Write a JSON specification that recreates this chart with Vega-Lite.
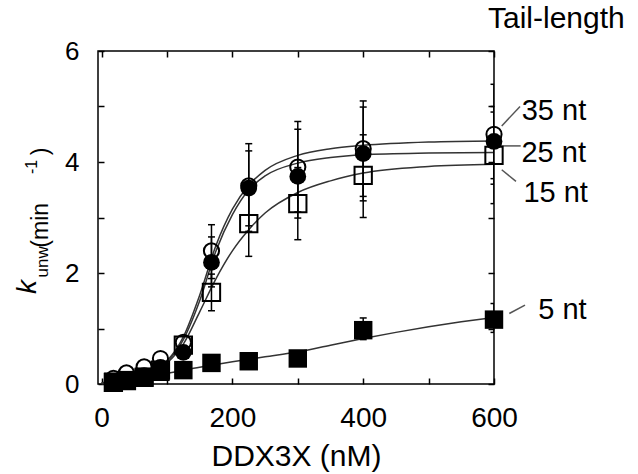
{
  "$schema": "https://vega.github.io/schema/vega-lite/v6.json",
  "width": 396,
  "height": 333,
  "autosize": {"type": "none"},
  "padding": {"left": 98, "top": 51, "right": 144, "bottom": 90},
  "background": "white",
  "config": {
    "view": {"stroke": "black", "strokeWidth": 1.5},
    "font": "Liberation Sans",
    "axis": {"grid": false, "domain": false, "tickColor": "black", "tickWidth": 1.5, "tickSize": -6, "labelColor": "black", "labelFont": "Liberation Sans", "titleFont": "Liberation Sans", "titleColor": "black", "titleFontWeight": "normal", "labelFlush": false}
  },
  "datasets": {
    "curves": [
      {"s": "35 nt", "x": 0, "y": 0.02}, {"s": "35 nt", "x": 25, "y": 0.08}, {"s": "35 nt", "x": 50, "y": 0.15}, {"s": "35 nt", "x": 75, "y": 0.25}, {"s": "35 nt", "x": 100, "y": 0.42}, {"s": "35 nt", "x": 125, "y": 0.85}, {"s": "35 nt", "x": 150, "y": 1.6}, {"s": "35 nt", "x": 175, "y": 2.5}, {"s": "35 nt", "x": 200, "y": 3.15}, {"s": "35 nt", "x": 225, "y": 3.58}, {"s": "35 nt", "x": 250, "y": 3.85}, {"s": "35 nt", "x": 300, "y": 4.12}, {"s": "35 nt", "x": 350, "y": 4.24}, {"s": "35 nt", "x": 400, "y": 4.3}, {"s": "35 nt", "x": 500, "y": 4.36}, {"s": "35 nt", "x": 600, "y": 4.38},
      {"s": "25 nt", "x": 0, "y": 0.02}, {"s": "25 nt", "x": 25, "y": 0.06}, {"s": "25 nt", "x": 50, "y": 0.12}, {"s": "25 nt", "x": 75, "y": 0.22}, {"s": "25 nt", "x": 100, "y": 0.4}, {"s": "25 nt", "x": 125, "y": 0.8}, {"s": "25 nt", "x": 150, "y": 1.5}, {"s": "25 nt", "x": 175, "y": 2.4}, {"s": "25 nt", "x": 200, "y": 3.05}, {"s": "25 nt", "x": 225, "y": 3.5}, {"s": "25 nt", "x": 250, "y": 3.75}, {"s": "25 nt", "x": 300, "y": 3.98}, {"s": "25 nt", "x": 350, "y": 4.08}, {"s": "25 nt", "x": 400, "y": 4.13}, {"s": "25 nt", "x": 500, "y": 4.16}, {"s": "25 nt", "x": 600, "y": 4.17},
      {"s": "15 nt", "x": 0, "y": 0.02}, {"s": "15 nt", "x": 25, "y": 0.05}, {"s": "15 nt", "x": 50, "y": 0.1}, {"s": "15 nt", "x": 75, "y": 0.2}, {"s": "15 nt", "x": 100, "y": 0.38}, {"s": "15 nt", "x": 125, "y": 0.72}, {"s": "15 nt", "x": 150, "y": 1.3}, {"s": "15 nt", "x": 175, "y": 1.9}, {"s": "15 nt", "x": 200, "y": 2.4}, {"s": "15 nt", "x": 225, "y": 2.78}, {"s": "15 nt", "x": 250, "y": 3.08}, {"s": "15 nt", "x": 300, "y": 3.45}, {"s": "15 nt", "x": 350, "y": 3.66}, {"s": "15 nt", "x": 400, "y": 3.8}, {"s": "15 nt", "x": 500, "y": 3.92}, {"s": "15 nt", "x": 600, "y": 3.96},
      {"s": "5 nt", "x": 0, "y": 0.0}, {"s": "5 nt", "x": 50, "y": 0.1}, {"s": "5 nt", "x": 100, "y": 0.19}, {"s": "5 nt", "x": 150, "y": 0.3}, {"s": "5 nt", "x": 200, "y": 0.4}, {"s": "5 nt", "x": 250, "y": 0.49}, {"s": "5 nt", "x": 300, "y": 0.58}, {"s": "5 nt", "x": 350, "y": 0.7}, {"s": "5 nt", "x": 400, "y": 0.82}, {"s": "5 nt", "x": 450, "y": 0.93}, {"s": "5 nt", "x": 500, "y": 1.03}, {"s": "5 nt", "x": 550, "y": 1.12}, {"s": "5 nt", "x": 600, "y": 1.2}
    ],
    "pts": [
      {"s": "35 nt", "x": 18, "y": 0.1}, {"s": "35 nt", "x": 38, "y": 0.2}, {"s": "35 nt", "x": 65, "y": 0.31}, {"s": "35 nt", "x": 90, "y": 0.46}, {"s": "35 nt", "x": 125, "y": 0.75}, {"s": "35 nt", "x": 168, "y": 2.4}, {"s": "35 nt", "x": 225, "y": 3.57}, {"s": "35 nt", "x": 300, "y": 3.91}, {"s": "35 nt", "x": 400, "y": 4.24}, {"s": "35 nt", "x": 600, "y": 4.5},
      {"s": "25 nt", "x": 18, "y": 0.04}, {"s": "25 nt", "x": 38, "y": 0.08}, {"s": "25 nt", "x": 65, "y": 0.15}, {"s": "25 nt", "x": 90, "y": 0.3}, {"s": "25 nt", "x": 125, "y": 0.57}, {"s": "25 nt", "x": 168, "y": 2.19}, {"s": "25 nt", "x": 225, "y": 3.53}, {"s": "25 nt", "x": 300, "y": 3.74}, {"s": "25 nt", "x": 400, "y": 4.15}, {"s": "25 nt", "x": 600, "y": 4.37},
      {"s": "15 nt", "x": 18, "y": 0.03}, {"s": "15 nt", "x": 38, "y": 0.06}, {"s": "15 nt", "x": 65, "y": 0.12}, {"s": "15 nt", "x": 90, "y": 0.25}, {"s": "15 nt", "x": 125, "y": 0.7}, {"s": "15 nt", "x": 168, "y": 1.65}, {"s": "15 nt", "x": 225, "y": 2.89}, {"s": "15 nt", "x": 300, "y": 3.25}, {"s": "15 nt", "x": 400, "y": 3.76}, {"s": "15 nt", "x": 600, "y": 4.12},
      {"s": "5 nt", "x": 18, "y": 0.04}, {"s": "5 nt", "x": 38, "y": 0.07}, {"s": "5 nt", "x": 65, "y": 0.13}, {"s": "5 nt", "x": 90, "y": 0.22}, {"s": "5 nt", "x": 125, "y": 0.25}, {"s": "5 nt", "x": 168, "y": 0.38}, {"s": "5 nt", "x": 225, "y": 0.41}, {"s": "5 nt", "x": 300, "y": 0.46}, {"s": "5 nt", "x": 400, "y": 0.97}, {"s": "5 nt", "x": 600, "y": 1.16}
    ],
    "err": [
      {"s": "35 nt", "x": 168, "lo": 1.9, "hi": 2.87}, {"s": "35 nt", "x": 225, "lo": 2.85, "hi": 4.33}, {"s": "35 nt", "x": 300, "lo": 3.1, "hi": 4.73}, {"s": "35 nt", "x": 400, "lo": 3.38, "hi": 5.1}, {"s": "35 nt", "x": 600, "lo": 3.6, "hi": 5.4},
      {"s": "25 nt", "x": 168, "lo": 1.75, "hi": 2.65}, {"s": "25 nt", "x": 225, "lo": 2.75, "hi": 4.2}, {"s": "25 nt", "x": 300, "lo": 2.99, "hi": 4.59}, {"s": "25 nt", "x": 400, "lo": 3.3, "hi": 4.99}, {"s": "25 nt", "x": 600, "lo": 3.7, "hi": 5.0},
      {"s": "15 nt", "x": 168, "lo": 1.32, "hi": 1.98}, {"s": "15 nt", "x": 225, "lo": 2.3, "hi": 3.5}, {"s": "15 nt", "x": 300, "lo": 2.6, "hi": 3.9}, {"s": "15 nt", "x": 400, "lo": 3.0, "hi": 4.49}, {"s": "15 nt", "x": 600, "lo": 3.25, "hi": 4.9},
      {"s": "5 nt", "x": 400, "lo": 0.8, "hi": 1.19}, {"s": "5 nt", "x": 600, "lo": 0.93, "hi": 1.45}
    ],
    "leaders": [
      {"s": "35 nt", "x": 611.8, "y": 4.65, "x2": 639.8, "y2": 5.0},
      {"s": "25 nt", "x": 609.2, "y": 4.29, "x2": 640.8, "y2": 4.29},
      {"s": "15 nt", "x": 611.8, "y": 3.86, "x2": 633.6, "y2": 3.65},
      {"s": "5 nt", "x": 623.4, "y": 1.27, "x2": 647.4, "y2": 1.42}
    ],
    "serieslabels": [
      {"t": "35 nt", "x": 642.4, "y": 4.76},
      {"t": "25 nt", "x": 642.0, "y": 4.0},
      {"t": "15 nt", "x": 645.0, "y": 3.28},
      {"t": "5 nt", "x": 667.7, "y": 1.18}
    ],
    "legendtitle": [{"t": "Tail-length", "x": 590.8, "y": 6.41}],
    "ytitle_k": [{"t": "k", "x": -112, "y": 1.75}],
    "ytitle_sub": [{"t": "unw", "x": -89.3, "y": 2.2}],
    "ytitle_main": [{"t": "(min", "x": -93.0, "y": 2.86}, {"t": ")", "x": -93.0, "y": 4.19}],
    "ytitle_sup": [{"t": "-1", "x": -106.4, "y": 3.91}]
  },
  "resolve": {"axis": {"x": "independent", "y": "independent"}},
  "layer": [
    {
      "data": {"name": "curves"},
      "mark": {"type": "line", "interpolate": "monotone", "color": "#333333", "strokeWidth": 1.5},
      "encoding": {
        "x": {"field": "x", "type": "quantitative", "scale": {"domain": [-5.5, 600], "nice": false, "zero": false},
              "axis": {"orient": "bottom", "values": [0, 100, 200, 300, 400, 500, 600], "labelExpr": "datum.value % 200 === 0 ? datum.label : ''", "labelFontSize": 28, "labelPadding": 26, "title": "DDX3X (nM)", "titleFontSize": 30, "titlePadding": 9}},
        "y": {"field": "y", "type": "quantitative", "scale": {"domain": [0, 6], "nice": false, "zero": false},
              "axis": {"orient": "left", "values": [0, 1, 2, 3, 4, 5, 6], "labelExpr": "datum.value % 2 === 0 ? datum.label : ''", "labelFontSize": 26, "labelPadding": 25, "title": null}},
        "detail": {"field": "s"}
      }
    },
    {
      "data": {"name": "leaders"},
      "mark": {"type": "rule", "color": "#555555", "strokeWidth": 1.5},
      "encoding": {
        "x": {"field": "x", "type": "quantitative", "scale": {"domain": [-5.5, 600], "nice": false, "zero": false},
              "axis": {"orient": "top", "values": [0, 100, 200, 300, 400, 500, 600], "labels": false, "title": null}},
        "x2": {"field": "x2"},
        "y": {"field": "y", "type": "quantitative", "scale": {"domain": [0, 6], "nice": false, "zero": false},
              "axis": {"orient": "right", "values": [0, 1, 2, 3, 4, 5, 6], "labels": false, "title": null}},
        "y2": {"field": "y2"}
      }
    },
    {
      "data": {"name": "err"},
      "mark": {"type": "rule", "color": "black", "strokeWidth": 1.5, "clip": true},
      "encoding": {
        "x": {"field": "x", "type": "quantitative", "scale": {"domain": [-5.5, 600], "nice": false, "zero": false}, "axis": null},
        "y": {"field": "lo", "type": "quantitative", "scale": {"domain": [0, 6], "nice": false, "zero": false}, "axis": null},
        "y2": {"field": "hi"}
      }
    },
    {
      "data": {"name": "err"},
      "mark": {"type": "tick", "orient": "horizontal", "color": "black", "size": 7, "thickness": 1.5, "clip": true, "opacity": 1},
      "encoding": {
        "x": {"field": "x", "type": "quantitative", "scale": {"domain": [-5.5, 600], "nice": false, "zero": false}, "axis": null},
        "y": {"field": "lo", "type": "quantitative", "scale": {"domain": [0, 6], "nice": false, "zero": false}, "axis": null}
      }
    },
    {
      "data": {"name": "err"},
      "mark": {"type": "tick", "orient": "horizontal", "color": "black", "size": 7, "thickness": 1.5, "clip": true, "opacity": 1},
      "encoding": {
        "x": {"field": "x", "type": "quantitative", "scale": {"domain": [-5.5, 600], "nice": false, "zero": false}, "axis": null},
        "y": {"field": "hi", "type": "quantitative", "scale": {"domain": [0, 6], "nice": false, "zero": false}, "axis": null}
      }
    },
    {
      "data": {"name": "pts"},
      "transform": [{"filter": "datum.s === '35 nt'"}],
      "mark": {"type": "point", "shape": "circle", "filled": false, "stroke": "black", "strokeWidth": 2, "size": 230, "opacity": 1},
      "encoding": {
        "x": {"field": "x", "type": "quantitative", "scale": {"domain": [-5.5, 600], "nice": false, "zero": false}, "axis": null},
        "y": {"field": "y", "type": "quantitative", "scale": {"domain": [0, 6], "nice": false, "zero": false}, "axis": null}
      }
    },
    {
      "data": {"name": "pts"},
      "transform": [{"filter": "datum.s === '25 nt'"}],
      "mark": {"type": "point", "shape": "circle", "filled": true, "color": "black", "size": 280, "opacity": 1},
      "encoding": {
        "x": {"field": "x", "type": "quantitative", "scale": {"domain": [-5.5, 600], "nice": false, "zero": false}, "axis": null},
        "y": {"field": "y", "type": "quantitative", "scale": {"domain": [0, 6], "nice": false, "zero": false}, "axis": null}
      }
    },
    {
      "data": {"name": "pts"},
      "transform": [{"filter": "datum.s === '15 nt'"}],
      "mark": {"type": "point", "shape": "square", "filled": false, "stroke": "black", "strokeWidth": 2, "size": 300, "opacity": 1},
      "encoding": {
        "x": {"field": "x", "type": "quantitative", "scale": {"domain": [-5.5, 600], "nice": false, "zero": false}, "axis": null},
        "y": {"field": "y", "type": "quantitative", "scale": {"domain": [0, 6], "nice": false, "zero": false}, "axis": null}
      }
    },
    {
      "data": {"name": "pts"},
      "transform": [{"filter": "datum.s === '5 nt'"}],
      "mark": {"type": "point", "shape": "square", "filled": true, "color": "black", "size": 340, "opacity": 1},
      "encoding": {
        "x": {"field": "x", "type": "quantitative", "scale": {"domain": [-5.5, 600], "nice": false, "zero": false}, "axis": null},
        "y": {"field": "y", "type": "quantitative", "scale": {"domain": [0, 6], "nice": false, "zero": false}, "axis": null}
      }
    },
    {
      "data": {"name": "serieslabels"},
      "mark": {"type": "text", "align": "left", "baseline": "alphabetic", "fontSize": 29, "color": "black", "font": "Liberation Sans"},
      "encoding": {
        "x": {"field": "x", "type": "quantitative", "scale": {"domain": [-5.5, 600], "nice": false, "zero": false}, "axis": null},
        "y": {"field": "y", "type": "quantitative", "scale": {"domain": [0, 6], "nice": false, "zero": false}, "axis": null},
        "text": {"field": "t"}
      }
    },
    {
      "data": {"name": "legendtitle"},
      "mark": {"type": "text", "align": "left", "baseline": "alphabetic", "fontSize": 30, "color": "black", "font": "Liberation Sans"},
      "encoding": {
        "x": {"field": "x", "type": "quantitative", "scale": {"domain": [-5.5, 600], "nice": false, "zero": false}, "axis": null},
        "y": {"field": "y", "type": "quantitative", "scale": {"domain": [0, 6], "nice": false, "zero": false}, "axis": null},
        "text": {"field": "t"}
      }
    },
    {
      "data": {"name": "ytitle_k"},
      "mark": {"type": "text", "align": "center", "baseline": "middle", "angle": 270, "fontSize": 28, "fontStyle": "italic", "color": "black", "font": "Liberation Sans"},
      "encoding": {
        "x": {"field": "x", "type": "quantitative", "scale": {"domain": [-5.5, 600], "nice": false, "zero": false}, "axis": null},
        "y": {"field": "y", "type": "quantitative", "scale": {"domain": [0, 6], "nice": false, "zero": false}, "axis": null},
        "text": {"field": "t"}
      }
    },
    {
      "data": {"name": "ytitle_sub"},
      "mark": {"type": "text", "align": "center", "baseline": "middle", "angle": 270, "fontSize": 17, "color": "black", "font": "Liberation Sans"},
      "encoding": {
        "x": {"field": "x", "type": "quantitative", "scale": {"domain": [-5.5, 600], "nice": false, "zero": false}, "axis": null},
        "y": {"field": "y", "type": "quantitative", "scale": {"domain": [0, 6], "nice": false, "zero": false}, "axis": null},
        "text": {"field": "t"}
      }
    },
    {
      "data": {"name": "ytitle_main"},
      "mark": {"type": "text", "align": "center", "baseline": "middle", "angle": 270, "fontSize": 23, "color": "black", "font": "Liberation Sans"},
      "encoding": {
        "x": {"field": "x", "type": "quantitative", "scale": {"domain": [-5.5, 600], "nice": false, "zero": false}, "axis": null},
        "y": {"field": "y", "type": "quantitative", "scale": {"domain": [0, 6], "nice": false, "zero": false}, "axis": null},
        "text": {"field": "t"}
      }
    },
    {
      "data": {"name": "ytitle_sup"},
      "mark": {"type": "text", "align": "center", "baseline": "middle", "angle": 270, "fontSize": 16, "color": "black", "font": "Liberation Sans"},
      "encoding": {
        "x": {"field": "x", "type": "quantitative", "scale": {"domain": [-5.5, 600], "nice": false, "zero": false}, "axis": null},
        "y": {"field": "y", "type": "quantitative", "scale": {"domain": [0, 6], "nice": false, "zero": false}, "axis": null},
        "text": {"field": "t"}
      }
    }
  ]
}
